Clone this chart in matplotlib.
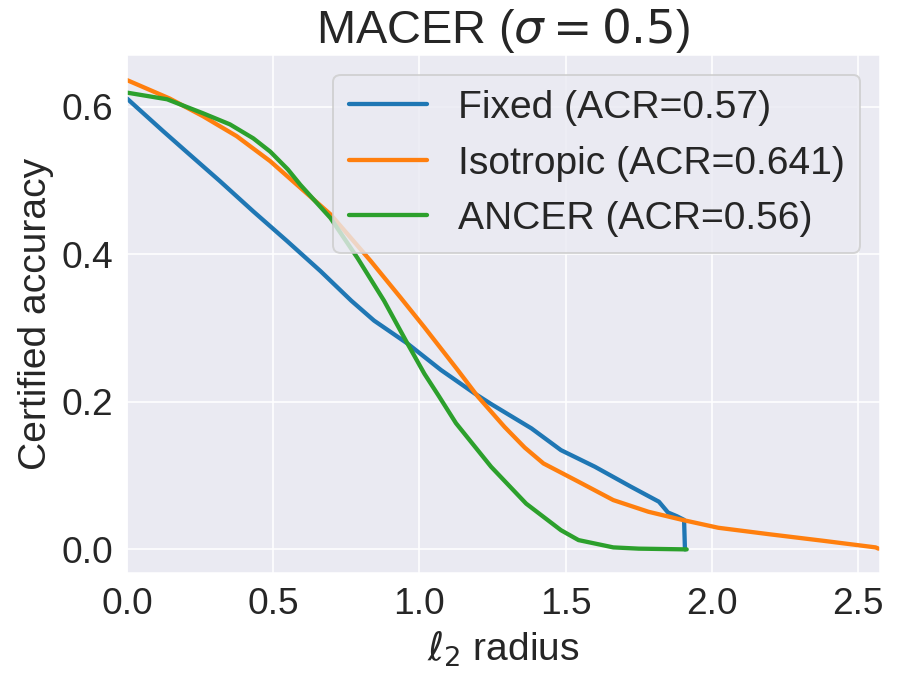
import matplotlib
matplotlib.use("Agg")
import matplotlib.pyplot as plt
import seaborn as sns

sns.set_style("darkgrid")
plt.rcParams['font.family'] = ['Liberation Sans', 'DejaVu Sans']
plt.rcParams['mathtext.fontset'] = 'dejavusans'

fixed_r = [0.0, 0.123, 0.203, 0.318, 0.432, 0.547, 0.662, 0.767, 0.845, 0.959, 1.074,
           1.19, 1.245, 1.383, 1.484, 1.6, 1.723, 1.819, 1.85, 1.88, 1.905, 1.908]
fixed_acc = [0.611, 0.567, 0.539, 0.499, 0.458, 0.418, 0.377, 0.337, 0.31, 0.279, 0.243,
             0.211, 0.197, 0.164, 0.1345, 0.112, 0.085, 0.0646, 0.05, 0.045, 0.04, 0.0]

iso_r = [0.0, 0.146, 0.26, 0.375, 0.49, 0.593, 0.696, 0.833, 0.936, 1.017, 1.131, 1.2,
         1.291, 1.36, 1.424, 1.544, 1.663, 1.783, 1.902, 2.022, 2.201, 2.38, 2.56, 2.57]
iso_acc = [0.636, 0.611, 0.587, 0.56, 0.526, 0.49, 0.454, 0.391, 0.341, 0.301, 0.243, 0.207,
           0.166, 0.138, 0.1165, 0.0917, 0.0668, 0.051, 0.0397, 0.0293, 0.0203, 0.0117, 0.0027, 0.001]

ancer_r = [0.0, 0.137, 0.26, 0.352, 0.432, 0.49, 0.55, 0.593, 0.696, 0.788, 0.879, 0.959,
           1.017, 1.066, 1.125, 1.245, 1.365, 1.484, 1.544, 1.663, 1.75, 1.914]
ancer_acc = [0.619, 0.610, 0.591, 0.576, 0.557, 0.539, 0.515, 0.494, 0.449, 0.395, 0.337, 0.279,
             0.238, 0.208, 0.171, 0.112, 0.062, 0.026, 0.0126, 0.0027, 0.001, 0.0]

labels = ["Fixed (ACR=0.57)", "Isotropic (ACR=0.641)", "ANCER (ACR=0.56)"]
colors = ["#1f77b4", "#ff7f0e", "#2ca02c"]

fig = plt.figure(figsize=(899/140.5, 675/140.5), dpi=140.5)
ax = fig.add_axes([127/899, 1-573/675, (880-127)/899, (573-55)/675])

ax.plot(fixed_r, fixed_acc, color=colors[0], lw=2.2, label=labels[0])
ax.plot(iso_r, iso_acc, color=colors[1], lw=2.2, label=labels[1])
ax.plot(ancer_r, ancer_acc, color=colors[2], lw=2.2, label=labels[2])

ax.set_xlim(0, 2.575)
ax.set_ylim(-0.032, 0.670)
ax.set_xticks([0.0, 0.5, 1.0, 1.5, 2.0, 2.5])
ax.set_yticks([0.0, 0.2, 0.4, 0.6])
ax.tick_params(labelsize=19)
ax.set_xlabel(r"$\ell_2$ radius", fontsize=20)
ax.set_ylabel("Certified accuracy", fontsize=20)
ax.set_title(r"MACER ($\sigma = 0.5$)", fontsize=24)
ax.legend(loc="upper right", fontsize=20)

fig.savefig("out.png", dpi=140.5)
